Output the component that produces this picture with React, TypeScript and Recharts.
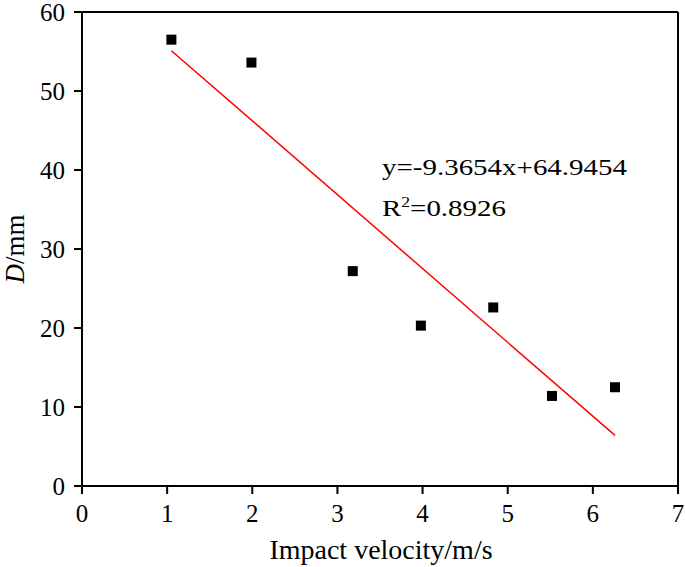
import {
  ScatterChart,
  Scatter,
  XAxis,
  YAxis,
  ReferenceLine,
  Customized,
} from 'recharts';

// ── Données ────────────────────────────────────────────────

const velocity = [1.05, 1.99, 3.18, 3.98, 4.83, 5.52, 6.26];
const depth = [56.5, 53.6, 27.2, 20.3, 22.6, 11.4, 12.5];

// droite de régression : extrémités
const fitX = [1.05, 6.26];
const fitY = [55.1, 6.4];

const xTicks = [0, 1, 2, 3, 4, 5, 6, 7];
const yTicks = [0, 10, 20, 30, 40, 50, 60];

const points = velocity.map((x, i) => ({ x, y: depth[i] }));
const fitLine = fitX.map((x, i) => ({ x, y: fitY[i] }));

const FONT = '"Liberation Serif", "Times New Roman", serif';
const tickStyle = { fill: '#000', fontSize: 25, fontFamily: FONT };

// ── Formes ────────────────────────────────────────────────

const Square = (props: any) => {
  const { cx, cy } = props;
  if (cx == null || cy == null) return null;
  return <rect x={cx - 5} y={cy - 5} width={10} height={10} fill="#000" />;
};

const NoShape = () => null;

const AxisLabels = () => (
  <g fontFamily={FONT} fill="#000">
    <text x={381} y={559} textAnchor="middle" fontSize={28}>
      Impact velocity/m/s
    </text>
    <text x={0} y={0} transform="translate(24, 249) rotate(-90)" textAnchor="middle" fontSize={27}>
      <tspan fontStyle="italic">D</tspan>
      <tspan>/mm</tspan>
    </text>
  </g>
);

const Equation = () => (
  <g fontFamily={FONT} fontSize={23} fill="#000">
    <text x={382} y={175} textLength={245} lengthAdjust="spacingAndGlyphs">
      y=-9.3654x+64.9454
    </text>
    <text x={382} y={216} textLength={124} lengthAdjust="spacingAndGlyphs">
      R<tspan fontSize={14} dy={-9}>2</tspan>
      <tspan dy={9}>=0.8926</tspan>
    </text>
  </g>
);

// ── Composant ──────────────────────────────────────────────

export default function App() {
  return (
    <div style={{ position: 'absolute', left: 0, top: 0, width: 685, height: 567, background: '#fff' }}>
      <ScatterChart width={685} height={567} margin={{ top: 12, right: 7, bottom: 0, left: 0 }}>
        <XAxis
          type="number"
          dataKey="x"
          domain={[0, 7]}
          ticks={xTicks}
          interval={0}
          height={81}
          stroke="#000"
          strokeWidth={2}
          tickSize={8}
          tickMargin={10}
          tick={tickStyle}
        />
        <YAxis
          type="number"
          dataKey="y"
          domain={[0, 60]}
          ticks={yTicks}
          interval={0}
          width={82}
          stroke="#000"
          strokeWidth={2}
          tickSize={8}
          tickMargin={9}
          tick={tickStyle}
        />
        <ReferenceLine y={60} stroke="#000" strokeWidth={2} />
        <ReferenceLine x={7} stroke="#000" strokeWidth={2} />
        <Scatter
          data={fitLine}
          line={{ stroke: '#ff0000', strokeWidth: 1.5 }}
          shape={NoShape}
          isAnimationActive={false}
        />
        <Scatter data={points} shape={Square} isAnimationActive={false} />
        <Customized component={AxisLabels} />
        <Customized component={Equation} />
      </ScatterChart>
    </div>
  );
}
